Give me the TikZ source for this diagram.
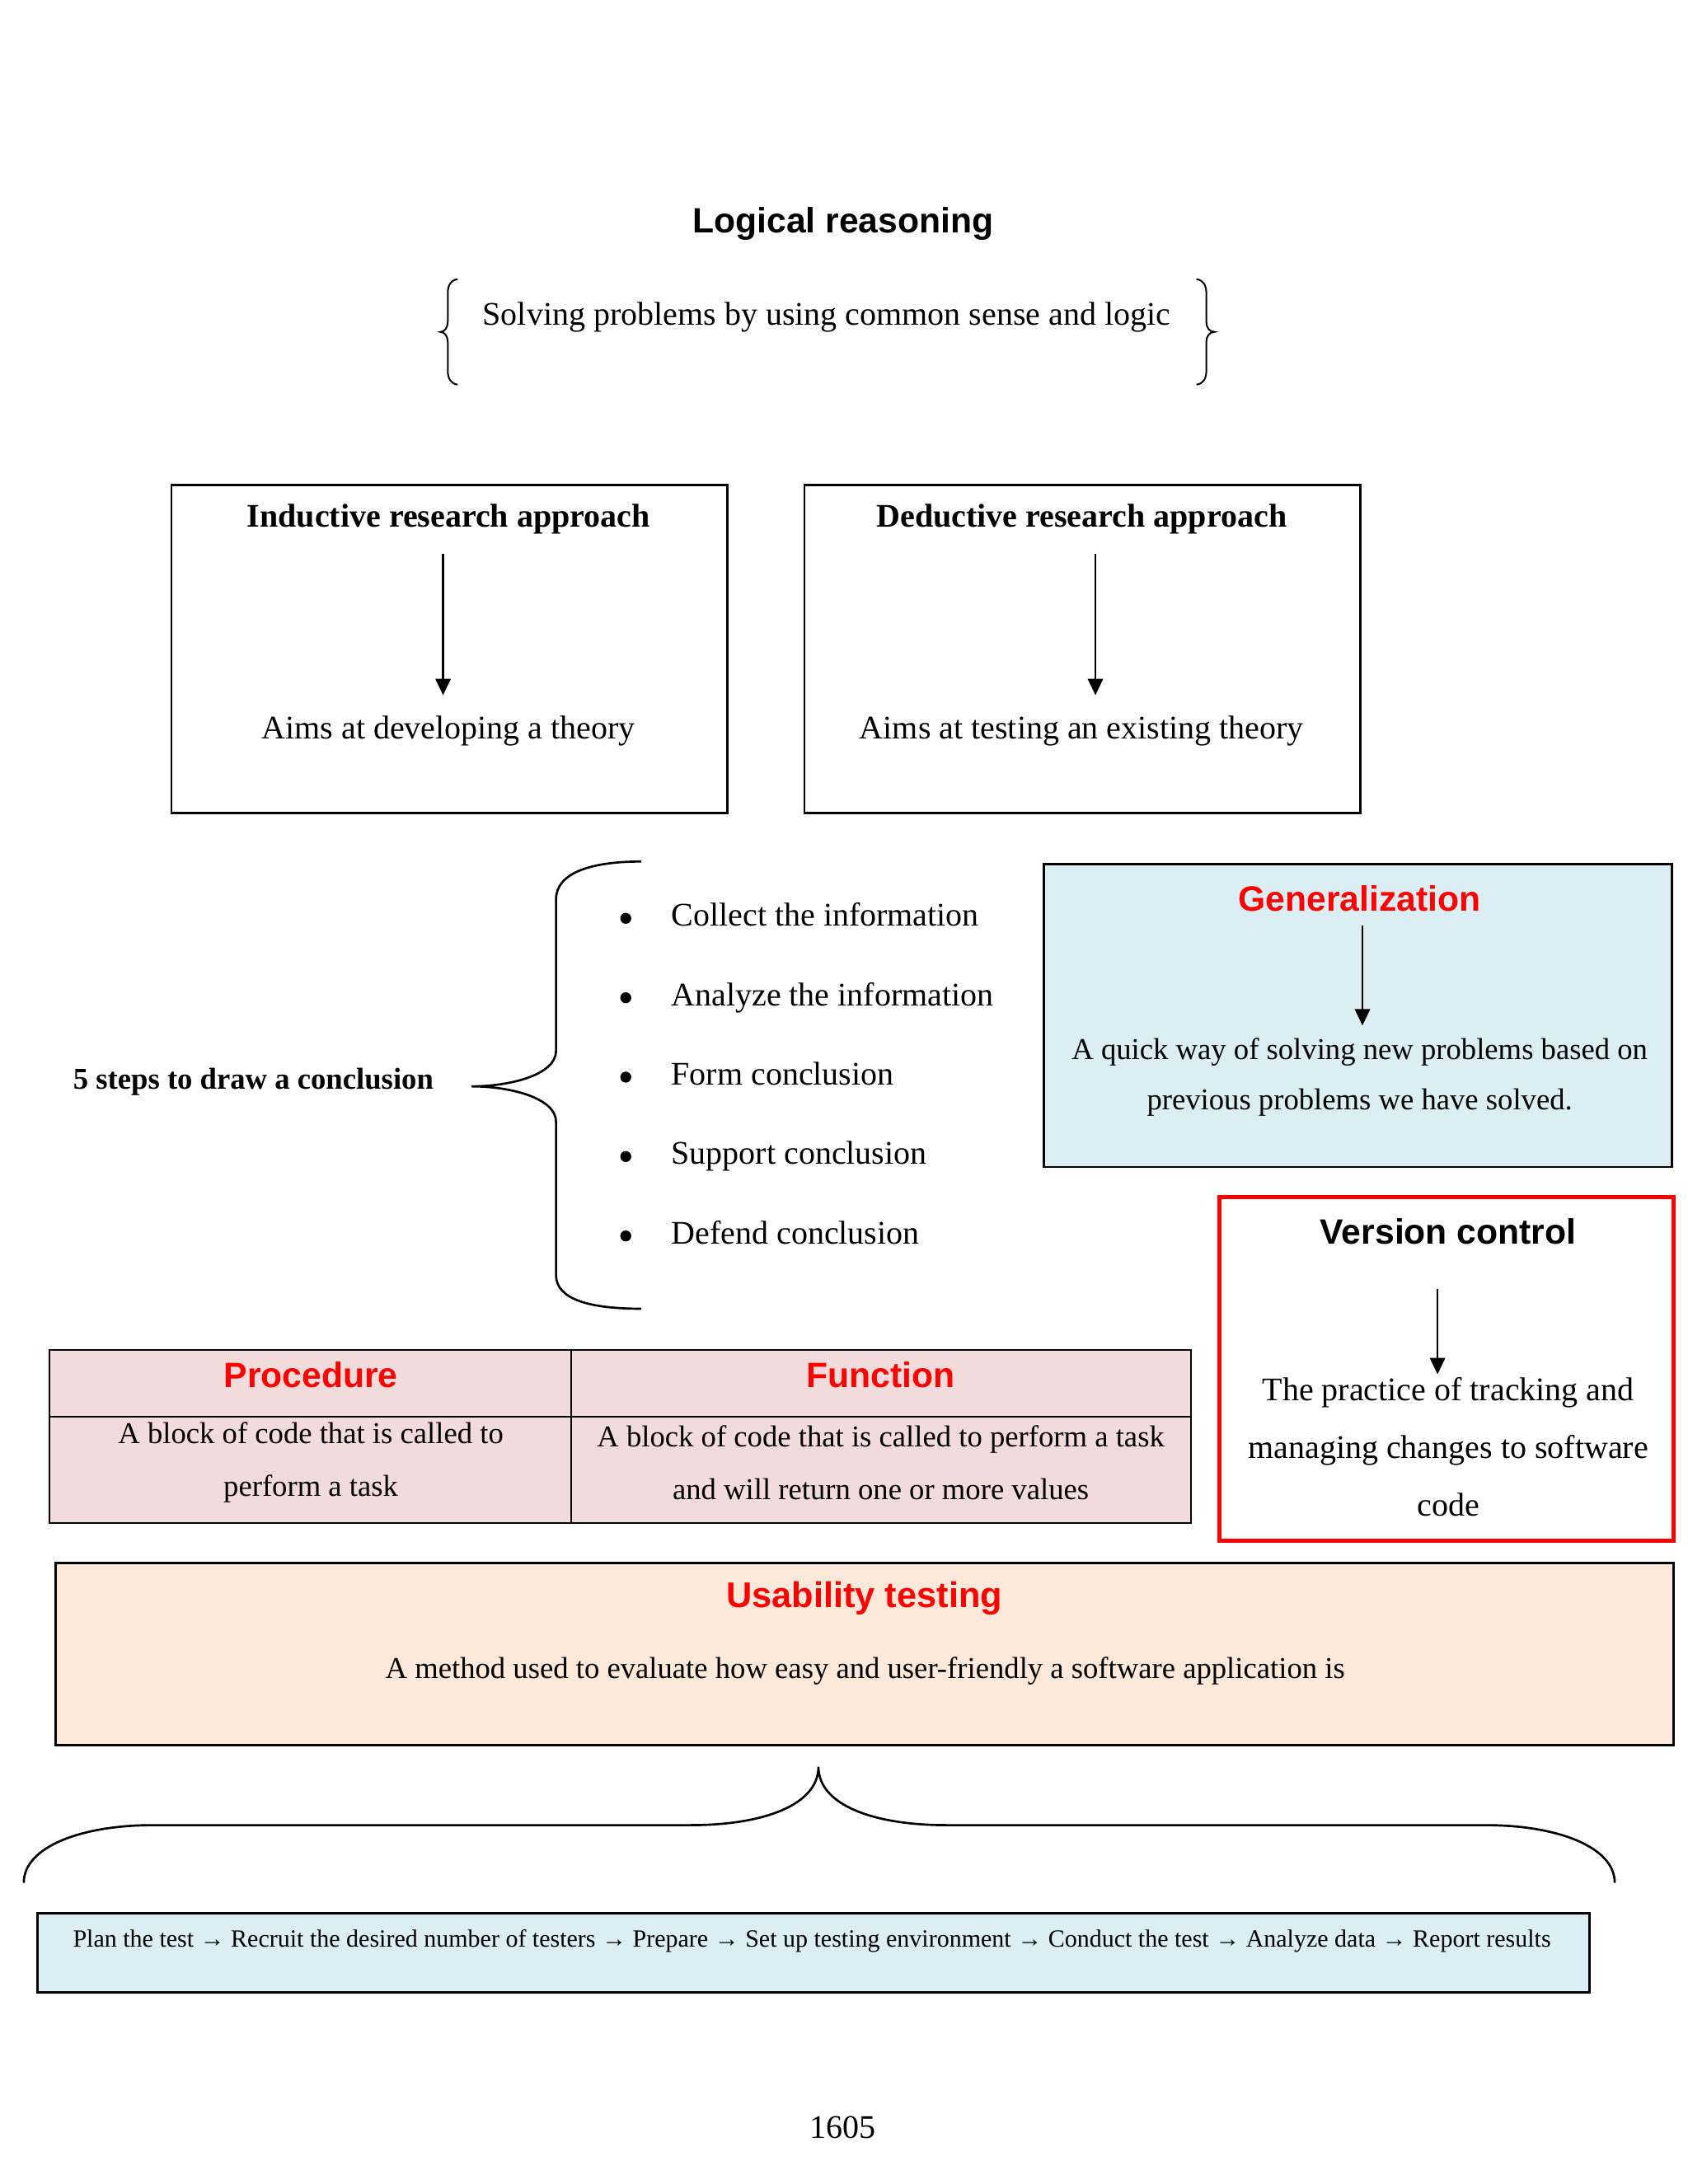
\documentclass[tikz,border=0pt]{standalone}
\usepackage{fontspec}
\setmainfont{Liberation Serif}
\newfontfamily\headfont{Liberation Sans}
\usetikzlibrary{positioning,arrows.meta}
\definecolor{genblue}{HTML}{DBEEF3}
\definecolor{procpink}{HTML}{F2DCDB}
\definecolor{usepeach}{HTML}{FDE9D9}
\definecolor{hdred}{HTML}{FF0000}
\tikzset{
	box/.style={draw, line width=0.8pt}, % frame of every box
	head/.style={font=\headfont\bfseries\fontsize{12.8}{15}\selectfont, inner sep=0pt}, % sans headings
	redhead/.style={head, text=hdred}, % red sans headings
	bhead/.style={font=\bfseries\fontsize{12}{14}\selectfont, inner sep=0pt}, % bold serif headings
	txt/.style={font=\fontsize{12}{14}\selectfont, inner sep=0pt, align=center}, % plain text
	small/.style={txt, font=\fontsize{11}{19.2}\selectfont}, % smaller text in the coloured boxes
	item/.style={txt, anchor=west, text height=8.3pt, text depth=2.6pt,
		label={[circle, fill, inner sep=0pt, minimum size=4pt, label distance=14.2pt]left:{}}}, % bullet list entry
	arr/.style={-{Triangle[width=5.5pt,length=6pt]}, line width=0.8pt}, % down arrows
	brc/.style={line width=0.8pt}, % curly brackets
}

\begin{document}
\begin{tikzpicture}[x=0.2985pt, y=-0.2998pt]
	\useasboundingbox (0pt,0pt) rectangle (614.4pt,-795pt);
	
	% title and definition
	\node[head] (title) at (1028,272) {Logical reasoning};
	\node[txt] (sense) at (1008,385) {Solving problems by using common sense and logic};
	\draw[line width=0.6pt] (558,339) .. controls (550,340) and (546,346) .. (546,356) -- (546,391)
		.. controls (546,398) and (542,403) .. (537,403) .. controls (542,403) and (546,408) .. (546,415)
		-- (546,450) .. controls (546,460) and (550,466) .. (558,467);
	\draw[line width=0.6pt] (1459,339) .. controls (1467,340) and (1471,346) .. (1471,356) -- (1471,391)
		.. controls (1471,398) and (1475,403) .. (1481,403) .. controls (1475,403) and (1471,408) .. (1471,415)
		-- (1471,450) .. controls (1471,460) and (1467,466) .. (1459,467);
	
	% inductive / deductive
	\draw[box] (209,589) rectangle (887,987);
	\node[bhead] (indt) at (547,630) {Inductive research approach};
	\node[txt] (ind) at (547,888) {Aims at developing a theory};
	\draw[arr, shorten <=7pt, shorten >=7.5pt] ([xshift=-2pt]indt.south) -- ([xshift=-2pt]ind.north);
	
	\draw[box] (981,589) rectangle (1659,987);
	\node[bhead] (dedt) at (1319,630) {Deductive research approach};
	\node[txt] (ded) at (1319,888) {Aims at testing an existing theory};
	\draw[arr, shorten <=7pt, shorten >=7.5pt] ([xshift=5pt]dedt.south) -- ([xshift=5pt]ded.north);
	
	% five steps
	\node[font=\bfseries\fontsize{11}{13}\selectfont, inner sep=0pt] (steps) at (309,1314) {5 steps to draw a conclusion};
	\draw[brc] (782,1046) .. controls (720,1046) and (678,1060) .. (678,1092) -- (678,1276)
		.. controls (678,1305) and (622,1319) .. (575,1319) .. controls (622,1319) and (678,1333) .. (678,1362)
		-- (678,1548) .. controls (678,1578) and (720,1589) .. (782,1589);
	\node[item] (s1) at (818,1115) {Collect the information};
	\node[item, below right=17.6pt and 0pt of s1.south west] (s2) {Analyze the information};
	\node[item, below right=17.6pt and 0pt of s2.south west] (s3) {Form conclusion};
	\node[item, below right=17.6pt and 0pt of s3.south west] (s4) {Support conclusion};
	\node[item, below right=17.6pt and 0pt of s4.south west] (s5) {Defend conclusion};
	
	% generalization
	\draw[box, fill=genblue] (1273,1049) rectangle (2039,1417);
	\node[redhead] (gent) at (1658,1091) {Generalization};
	\node[small, font=\fontsize{11}{18.2}\selectfont] (gen) at (1658,1308) {A quick way of solving new problems based on\\previous problems we have solved.};
	\draw[arr, shorten <=4.8pt, shorten >=4.5pt] ([xshift=1pt]gent.south) -- ([xshift=1pt]gen.north);
	
	% version control
	\draw[draw=hdred, line width=1.5pt] (1487,1453) rectangle (2041,1871);
	\node[head] (vert) at (1766,1495) {Version control};
	\node[txt, font=\fontsize{12}{21}\selectfont] (ver) at (1766,1757) {The practice of tracking and\\managing changes to software\\code};
	\draw[arr, shorten <=16pt, shorten >=1pt] ([xshift=-3.9pt]vert.south) -- ([xshift=-3.9pt]ver.north);
	
	% procedure / function table
	\fill[procpink] (60,1639) rectangle (1452,1849);
	\draw[line width=0.6pt] (60,1639) rectangle (1452,1849) (696,1639) -- (696,1849) (60,1720) -- (1452,1720);
	\node[redhead] (proct) at (379,1669) {Procedure};
	\node[redhead] (funct) at (1074,1669) {Function};
	\node[small] (proc) at (379,1776) {A block of code that is called to\\perform a task};
	\node[small] (func) at (1074,1776) {A block of code that is called to perform a task\\and will return one or more values};
	
	% usability testing
	\draw[box, fill=usepeach] (68,1898) rectangle (2041,2119);
	\node[redhead, font=\headfont\bfseries\fontsize{13}{15}\selectfont] (uset) at (1054,1941) {Usability testing};
	\node[small] (use) at (1055,2029) {A method used to evaluate how easy and user-friendly a software application is};
	\draw[brc] (29,2286) .. controls (29,2242) and (100,2216) .. (186,2216) -- (842,2216)
		.. controls (930,2216) and (998,2192) .. (998,2145) .. controls (998,2192) and (1066,2216) .. (1154,2216)
		-- (1812,2216) .. controls (1898,2216) and (1969,2242) .. (1969,2286);
	\draw[box, fill=genblue] (46,2323) rectangle (1938,2419);
	\node[txt, font=\fontsize{9}{11}\selectfont] (plan) at (990,2357) {Plan the test → Recruit the desired number of testers → Prepare → Set up testing environment → Conduct the test → Analyze data → Report results};
	
	\node[txt] (page) at (1028,2583) {1605};
\end{tikzpicture}
\end{document}
